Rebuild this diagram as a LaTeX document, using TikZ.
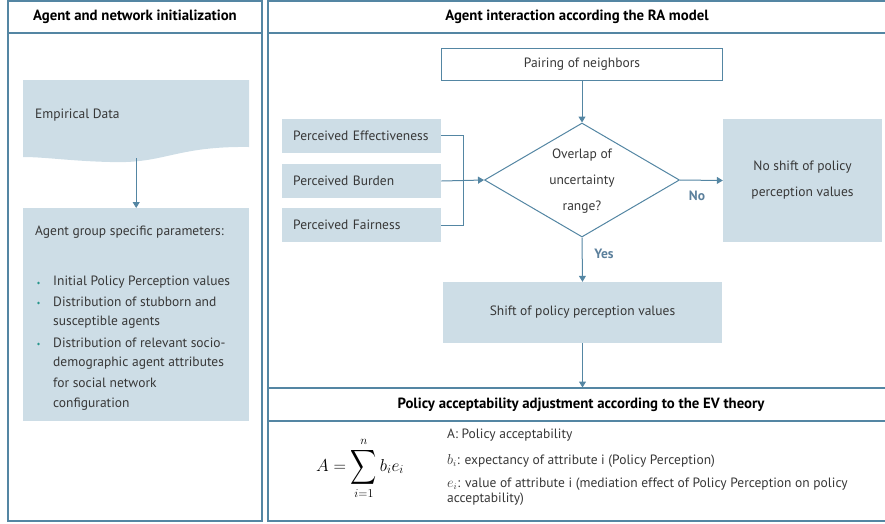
\documentclass[tikz,border=0pt]{standalone}
\usepackage{exscale}
\usepackage{fontspec}
\usepackage{graphicx}
\setmainfont{PT Sans}
\usetikzlibrary{arrows.meta,shapes.geometric}
\definecolor{frame}{RGB}{84,134,163}
\definecolor{boxfill}{RGB}{205,221,230}
\definecolor{txt}{RGB}{55,55,55}
\definecolor{lab}{RGB}{92,128,156}
\definecolor{dotc}{RGB}{40,150,140}
\tikzset{
  panel/.style={draw=frame,line width=1.3pt},
  body/.style={text=txt,font=\fontsize{13.5}{16}\selectfont,inner sep=0pt},
  head/.style={text=black,font=\bfseries\fontsize{14.8}{17}\selectfont,inner sep=0pt},
  box/.style={fill=boxfill,draw=none,text=txt,font=\fontsize{13.5}{16}\selectfont},
  wbox/.style={fill=white,draw=frame,line width=1pt,text=txt,font=\fontsize{13.5}{16}\selectfont},
  arr/.style={draw=frame,line width=1pt,-{Triangle[length=6pt,width=7pt]}},
  conn/.style={draw=frame,line width=1pt},
  yn/.style={text=lab,font=\bfseries\fontsize{13.5}{16}\selectfont,inner sep=0pt},
  bul/.style={circle,fill=dotc,inner sep=0pt,minimum size=2.6pt},
}
\begin{document}
\begin{tikzpicture}[x=1pt,y=-1pt]
\useasboundingbox (0,0) rectangle (885,523);
% panels
\draw[panel] (8,1) rectangle (262,521);
\draw[panel] (8,33) -- (262,33);
\draw[panel] (268,1) rectangle (892,521);
\draw[panel] (268,33) -- (892,33);
\draw[panel] (268,388) -- (892,388);
\draw[panel] (268,421) -- (892,421);
% headers
\node[head] (h1) at (135,17) {Agent and network initialization};
\node[head] (h2) at (577,17) {Agent interaction according the RA model};
\node[head] (h3) at (581,405) {Policy acceptability adjustment according to the EV theory};
% left column
\fill[boxfill] (23,80) -- (249,80) -- (249,147)
  .. controls (175,146) and (165,164) .. (110,162)
  .. controls (70,161) and (45,157) .. (23,157) -- cycle;
\node[minimum width=226pt,minimum height=78pt,inner sep=0pt,anchor=north west] (emp) at (23,80) {};
\node[body,anchor=west] (empt) at (35,115) {Empirical Data};
\node[box,minimum width=226pt,minimum height=213pt,anchor=north west] (agp) at (23,208) {};
\draw[arr] (emp.south) -- (agp.north);
\node[body,anchor=west] (agt) at (35,232) {Agent group specific parameters:};
\foreach \y/\t/\b in {282/Initial Policy Perception values/1,
                     302/Distribution of stubborn and/1,
                     322/susceptible agents/0,
                     343/Distribution of relevant socio-/1,
                     363/demographic agent attributes/0,
                     383/for social network/0,
                     404/configuration/0}{
  \node[body,anchor=west] (l\y) at (53,\y) {\t};
  \ifnum\b=1 \node[bul] (d\y) at (38.5,\y+1) {};\fi
}
% right: interaction
\node[wbox,minimum width=281pt,minimum height=32pt,inner sep=0pt] (pair) at (582,64.5) {Pairing of neighbors};
\node[diamond,draw=frame,fill=white,line width=1pt,minimum width=195pt,minimum height=114pt,inner sep=0pt] (dia) at (582,180) {};
\node[body,align=center,font=\fontsize{13.5}{26}\selectfont] (diat) at (582,181) {Overlap of\\uncertainty\\range?};
\node[box,minimum height=34pt,text width=137pt,inner xsep=11pt,align=left,anchor=west] (pe) at (282,135.5) {Perceived Effectiveness};
\node[box,minimum height=34pt,text width=137pt,inner xsep=11pt,align=left,anchor=west] (pb) at (282,181) {Perceived Burden};
\node[box,minimum height=34pt,text width=137pt,inner xsep=11pt,align=left,anchor=west] (pf) at (282,225) {Perceived Fairness};
\node[box,minimum width=159pt,minimum height=123pt,inner sep=0pt,align=center,font=\fontsize{13.5}{26}\selectfont] (nos) at (802.5,180.5) {No shift of policy\\perception values};
\node[box,minimum width=279pt,minimum height=61pt,inner sep=0pt] (shift) at (582.5,312.5) {Shift of policy perception values};
\coordinate (join) at (463,181);
\draw[conn] (pe.east) -| (join);
\draw[conn] (pf.east) -| (join);
\draw[arr] (pb.east) -- (dia.west);
\draw[arr] (pair.south) -- (dia.north);
\draw[arr] (dia.east) -- (nos.west);
\draw[arr] (dia.south) -- (shift.north);
\coordinate (sec) at (582.5,387.5);
\draw[arr] (shift.south) -- (sec);
\node[yn] (no) at (697,196) {No};
\node[yn] (yes) at (604,254) {Yes};
% bottom: formula
\node[inner sep=0pt,font=\fontsize{18}{22}\selectfont] (form) at (360,468)
  {$\displaystyle A=\mathop{\vcenter{\hbox{\scalebox{1.05}[1.4]{$\displaystyle\sum$}}}}\limits_{i=1}^{n} b_i e_i$};
\node[body,anchor=west] (ta) at (447,435) {A: Policy acceptability};
\node[body,anchor=west] (tb) at (447,461) {$b_i$: expectancy of attribute i (Policy Perception)};
\node[body,anchor=north west,align=left,font=\fontsize{13.5}{15}\selectfont] (te) at (447,478) {$e_i$: value of attribute i (mediation effect of Policy Perception on policy\\acceptability)};
\end{tikzpicture}
\end{document}
